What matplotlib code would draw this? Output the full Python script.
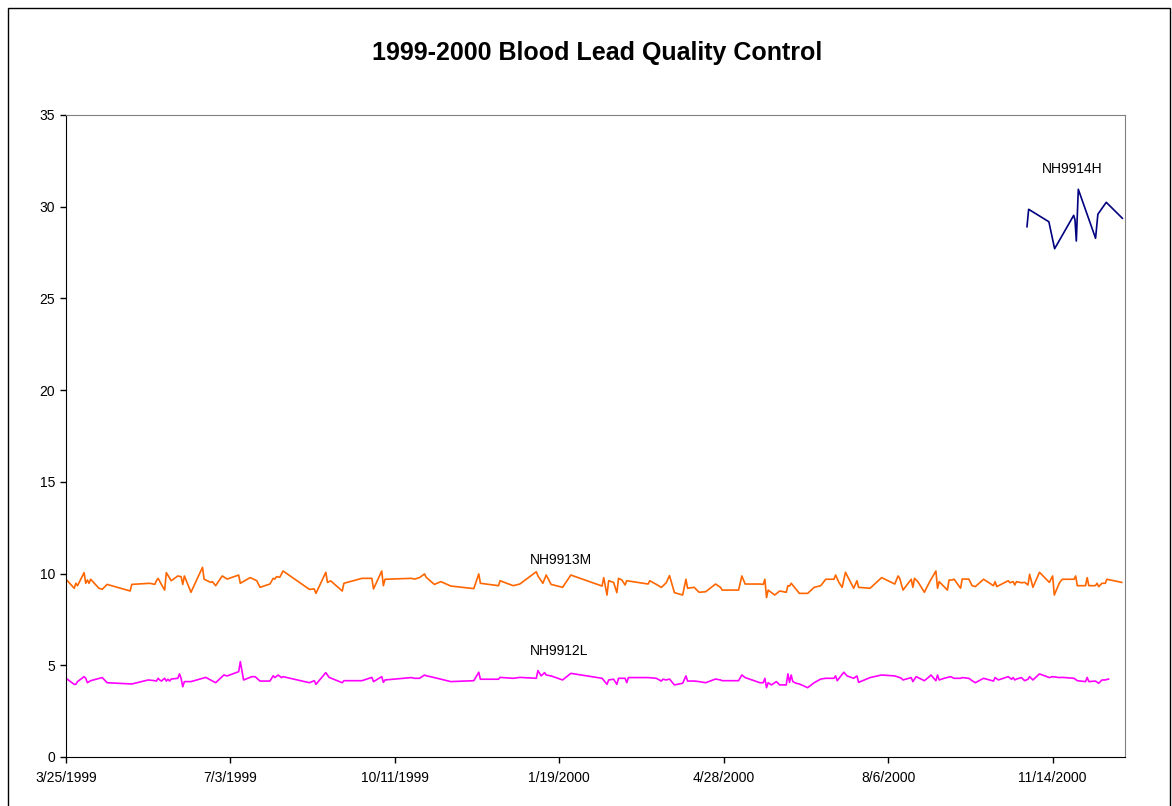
import matplotlib
matplotlib.use('Agg')
import matplotlib.pyplot as plt
import pandas as pd
from matplotlib.patches import Rectangle

plt.rcParams['font.family'] = ['Liberation Sans', 'DejaVu Sans']

# Days since the first QC run (3/25/1999) and measured blood lead values
start = pd.Timestamp('1999-03-25')

low_days = [0, 5, 6, 7, 11, 12, 13, 15, 22, 25, 40, 50, 54, 55, 56, 57, 58, 60, 61, 62,
            63, 64, 68, 69, 70, 71, 72, 76, 85, 91, 96, 98, 105, 106, 108, 113, 115, 118, 124, 126,
            127, 129, 131, 132, 148, 151, 152, 158, 160, 168, 169, 180, 186, 187, 192, 193, 194, 210, 212, 215,
            218, 219, 224, 234, 248, 251, 252, 263, 264, 272, 276, 286, 287, 289, 291, 292, 295, 302, 307, 326,
            329, 330, 333, 335, 336, 340, 341, 342, 354, 359, 362, 363, 365, 367, 370, 375, 377, 378, 382, 385,
            389, 395, 398, 399, 409, 411, 413, 422,
            424, 425, 426, 427, 429, 432, 434, 438, 439, 440, 441, 442, 444, 446, 451, 455, 459, 462, 467, 468,
            469, 473, 475, 479, 481, 482, 489, 496, 504, 507, 508, 509, 514, 515, 517, 522, 525, 526, 529, 530,
            531, 534, 538, 540, 544, 545, 549, 551, 553, 558, 564, 565, 567, 573, 575, 576, 577, 578, 581, 583,
            585, 586, 588, 592, 598, 600, 604, 606, 613, 615, 620, 621, 622, 626, 628, 630, 632, 634]
low_vals = [4.29, 3.96, 3.96, 4.11, 4.38, 4.29, 4.05, 4.16, 4.33, 4.05, 3.98, 4.20, 4.16, 4.14, 4.29, 4.20, 4.14, 4.29, 4.14, 4.24,
            4.14, 4.25, 4.29, 4.53, 4.29, 3.83, 4.11, 4.11, 4.34, 4.05, 4.47, 4.42, 4.65, 5.20, 4.20, 4.38, 4.38, 4.14, 4.14, 4.43,
            4.33, 4.47, 4.33, 4.38, 4.05, 4.16, 3.96, 4.60, 4.34, 4.05, 4.16, 4.16, 4.34, 4.11, 4.38, 4.07, 4.20, 4.33, 4.29, 4.29,
            4.47, 4.43, 4.33, 4.11, 4.16, 4.62, 4.24, 4.24, 4.34, 4.29, 4.34, 4.29, 4.71, 4.42, 4.60, 4.47, 4.42, 4.20, 4.56, 4.29,
            3.96, 4.20, 4.24, 3.96, 4.29, 4.29, 4.05, 4.33, 4.33, 4.29, 4.14, 4.24, 4.20, 4.25, 3.93, 4.02, 4.42, 4.14, 4.14, 4.11,
            4.05, 4.25, 4.20, 4.16, 4.16, 4.47, 4.33, 4.05,
            4.05, 4.29, 3.78, 4.05, 3.93, 4.11, 3.93, 3.93, 4.53, 4.07, 4.47, 4.11, 4.02, 3.98, 3.78, 4.05, 4.25, 4.29, 4.29, 4.42,
            4.16, 4.62, 4.42, 4.29, 4.42, 4.07, 4.33, 4.47, 4.42, 4.33, 4.29, 4.20, 4.33, 4.11, 4.38, 4.16, 4.38, 4.47, 4.16, 4.47,
            4.20, 4.29, 4.38, 4.29, 4.29, 4.33, 4.29, 4.16, 4.05, 4.29, 4.14, 4.33, 4.20, 4.38, 4.24, 4.33, 4.20, 4.25, 4.33, 4.16,
            4.24, 4.38, 4.20, 4.53, 4.33, 4.38, 4.33, 4.34, 4.29, 4.16, 4.11, 4.34, 4.11, 4.14, 4.02, 4.20, 4.20, 4.25]

mid_days = [0, 5, 6, 7, 11, 12, 13, 14, 15, 20, 22, 25, 39, 40, 51, 54, 55, 56, 58, 60,
            61, 64, 68, 70, 71, 72, 76, 83, 84, 88, 89, 91, 95, 98, 105, 106, 112, 116, 118, 124,
            126, 127, 128, 130, 132, 148, 151, 152, 158, 159, 161, 168, 169, 180, 186, 187, 192, 193, 194, 210,
            212, 215,
            218, 219, 224, 228, 234, 248, 251, 252, 263, 264, 268, 272, 276, 286, 287, 290, 292, 295, 302, 307,
            326, 327, 329, 330, 333, 335, 336, 338, 340, 341, 354, 355, 359, 362, 363, 365, 367, 370, 375, 377,
            378, 382, 385, 389, 395, 398, 399, 409, 411, 413, 422,
            424, 425, 426, 427, 431, 434, 438, 439, 440, 441, 446, 451, 455, 459, 462, 467, 468, 470, 472, 474,
            479, 481, 482, 489, 496, 504, 506, 507, 509, 514, 515, 516, 518, 522, 525, 529, 530, 531, 536, 537,
            539, 540, 544, 545, 549, 551, 553, 558, 564, 565, 566, 573, 574, 576, 577, 578, 581, 583, 585, 586,
            588, 592, 598, 600, 601, 604, 605, 606, 613, 614, 615, 620, 621, 622, 626, 627, 628, 630, 632, 633,
            642]
mid_vals = [9.69, 9.20, 9.47, 9.34, 10.05, 9.47, 9.65, 9.47, 9.69, 9.20, 9.14, 9.41, 9.05, 9.41, 9.47, 9.41, 9.61, 9.74, 9.41, 9.10,
            10.05, 9.61, 9.87, 9.83, 9.41, 9.87, 8.98, 10.34, 9.69, 9.52, 9.56, 9.34, 9.87, 9.70, 9.92, 9.47, 9.78, 9.61, 9.25, 9.43,
            9.74, 9.70, 9.83, 9.80, 10.14, 9.14, 9.16, 8.92, 10.07, 9.52, 9.60, 9.05, 9.47, 9.74, 9.74, 9.16, 10.14, 9.34, 9.69, 9.74,
            9.70, 9.78,
            9.98, 9.80, 9.41, 9.56, 9.32, 9.18, 9.98, 9.47, 9.34, 9.61, 9.47, 9.34, 9.43, 10.10, 9.87, 9.47, 9.92, 9.41, 9.25, 9.92,
            9.32, 9.78, 8.83, 9.61, 9.52, 8.96, 9.74, 9.65, 9.38, 9.61, 9.43, 9.61, 9.41, 9.25, 9.32, 9.50, 9.89, 8.96, 8.83, 9.69,
            9.20, 9.25, 8.98, 9.01, 9.43, 9.25, 9.10, 9.10, 9.87, 9.43, 9.43,
            9.41, 9.69, 8.69, 9.10, 8.83, 9.05, 8.98, 9.34, 9.32, 9.47, 8.92, 8.92, 9.25, 9.34, 9.69, 9.69, 9.92, 9.52, 9.25, 10.07,
            9.20, 9.61, 9.25, 9.20, 9.78, 9.43, 9.87, 9.74, 9.10, 9.69, 9.25, 9.74, 9.56, 8.98, 9.52, 10.14, 9.20, 9.56, 9.10, 9.65,
            9.65, 9.70, 9.20, 9.70, 9.70, 9.34, 9.29, 9.69, 9.34, 9.56, 9.29, 9.61, 9.50, 9.56, 9.38, 9.56, 9.50, 9.52, 9.38, 9.96,
            9.25, 10.07, 9.52, 9.87, 8.83, 9.47, 9.60, 9.69, 9.69, 9.87, 9.34, 9.34, 9.78, 9.34, 9.34, 9.47, 9.29, 9.47, 9.47, 9.69,
            9.52]

high_days = [584.4, 585.4, 597.7, 601.2, 612.8, 613.6, 614.4, 615.6, 626.1, 627.5, 632.6, 642.4]
high_vals = [28.91, 29.86, 29.18, 27.71, 29.53, 29.28, 28.13, 30.95, 28.28, 29.59, 30.24, 29.37]

series_names = ['NH9912L', 'NH9913M', 'NH9914H']
series_colors = ['#FF00FF', '#FF6600', '#000080']
# label anchor: (day, value)
label_pos = [(300, 5.8), (301, 10.75), (612, 32.05)]


def to_dates(days):
    return (start + pd.to_timedelta(days, unit='D')).to_numpy()


W, H = 1172, 806
fig = plt.figure(figsize=(W / 100, H / 100), dpi=100)
# chart border (bottom edge falls outside the image, as in the original)
fig.add_artist(Rectangle((8 / W, -10 / H), 1162 / W, 808 / H, transform=fig.transFigure,
                         fill=False, edgecolor='black', linewidth=1.0))
ax = fig.add_axes([66 / W, 1 - 757 / H, (1125 - 66) / W, (757 - 115) / H])

for days, vals, name, color, (lx, ly) in zip([low_days, mid_days, high_days],
                                             [low_vals, mid_vals, high_vals],
                                             series_names, series_colors, label_pos):
    ax.plot(to_dates(days), vals, color=color, linewidth=1.2)
    ax.text(to_dates([lx])[0], ly, name, ha='center', va='center', fontsize=10)

ax.set_xlim(to_dates([0])[0], to_dates([644])[0])
ax.set_ylim(0, 35)
ax.set_yticks(range(0, 36, 5))
tick_dates = [start + pd.Timedelta(days=d) for d in range(0, 601, 100)]
ax.set_xticks([d.to_datetime64() for d in tick_dates])
ax.set_xticklabels([f'{d.month}/{d.day}/{d.year}' for d in tick_dates])
ax.tick_params(axis='both', labelsize=10, length=4, width=1, direction='out')
ax.tick_params(axis='x', pad=6)
ax.tick_params(axis='y', pad=4)

for side in ['top', 'right']:
    ax.spines[side].set_color('#808080')
for side in ['left', 'bottom']:
    ax.spines[side].set_color('black')

fig.text(597 / W, 1 - 53 / H, '1999-2000 Blood Lead Quality Control',
         ha='center', va='center', fontsize=18, fontweight='bold')

fig.savefig('out.png', dpi=100)
